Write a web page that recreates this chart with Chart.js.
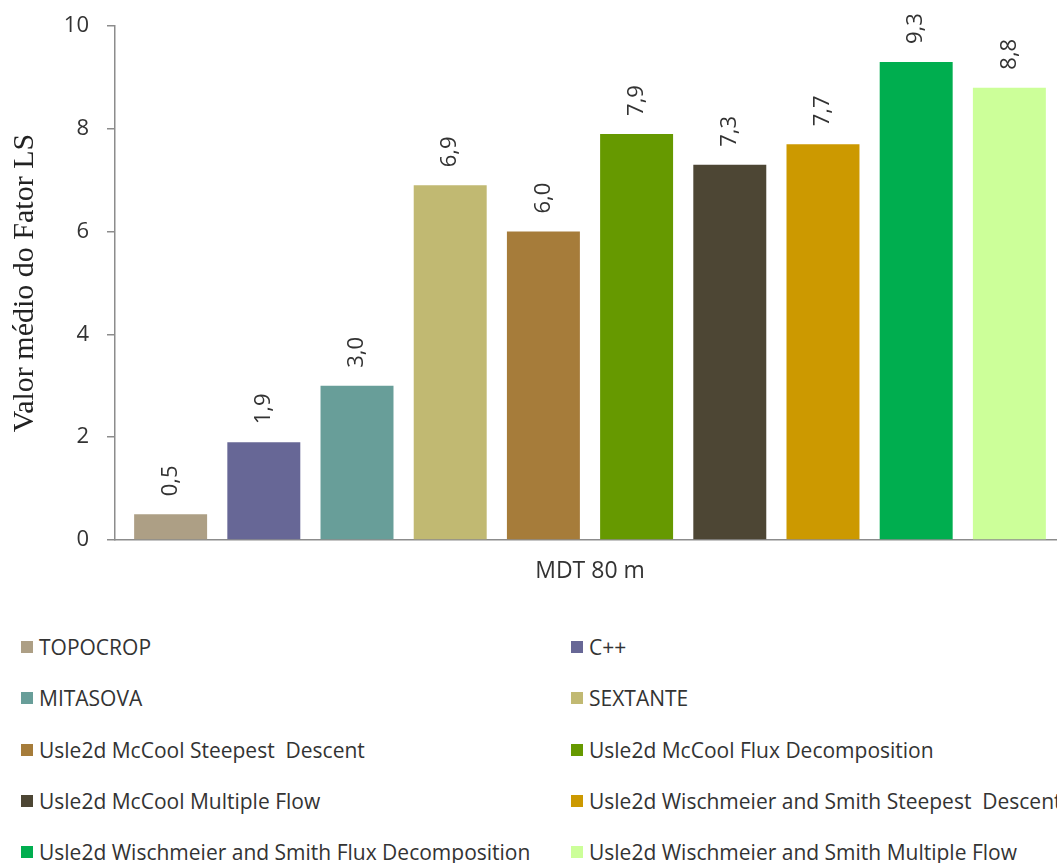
<!DOCTYPE html>
<html>
<head>
<meta charset="utf-8">
<script src="https://cdn.jsdelivr.net/npm/chart.js@4"></script>
<style>
  html, body { margin: 0; padding: 0; background: #fff; overflow: hidden; }
  #wrap { position: absolute; left: 0; top: 0; width: 1075px; height: 600px; }
  .legend { position: absolute; left: 0; top: 0; font-family: 'Open Sans', sans-serif; font-size: 21px; color: #333; }
  .legend .item { position: absolute; display: flex; align-items: center; white-space: pre; }
  .legend .box { width: 12px; height: 12px; margin-right: 6px; flex: none; }
</style>
</head>
<body>
<div id="wrap"><canvas id="chart" width="1075" height="600"></canvas></div>
<div class="legend" id="legend"></div>
<script>
// data
const categories = ['MDT 80 m'];
const seriesNames = [
  'TOPOCROP',
  'C++',
  'MITASOVA',
  'SEXTANTE',
  'Usle2d McCool Steepest  Descent',
  'Usle2d McCool Flux Decomposition',
  'Usle2d McCool Multiple Flow',
  'Usle2d Wischmeier and Smith Steepest  Descent',
  'Usle2d Wischmeier and Smith Flux Decomposition',
  'Usle2d Wischmeier and Smith Multiple Flow'
];
const seriesValues = [0.5, 1.9, 3.0, 6.9, 6.0, 7.9, 7.3, 7.7, 9.3, 8.8];
const seriesColors = [
  '#ad9f85', '#676796', '#689e99', '#c1b972', '#a67c3a',
  '#669900', '#4d4634', '#cc9900', '#00ae4f', '#ccff99'
];
const yTicks = [0, 2, 4, 6, 8, 10];

const fmt = v => v.toFixed(1).replace('.', ',');

// rotated value labels above each bar
const valueLabels = {
  id: 'valueLabels',
  afterDatasetsDraw(chart) {
    const ctx = chart.ctx;
    ctx.save();
    ctx.font = '22px "Open Sans"';
    ctx.fillStyle = '#333';
    ctx.textAlign = 'left';
    ctx.textBaseline = 'middle';
    chart.data.datasets.forEach((ds, i) => {
      const bar = chart.getDatasetMeta(i).data[0];
      ctx.save();
      ctx.translate(bar.x, bar.y - 18);
      ctx.rotate(-Math.PI / 2);
      ctx.fillText(fmt(ds.data[0]), 0, 0);
      ctx.restore();
    });
    ctx.restore();
  }
};

const datasets = seriesNames.map((name, i) => ({
  label: name,
  data: [seriesValues[i]],
  backgroundColor: seriesColors[i],
  borderWidth: 0,
  barPercentage: 0.783,
  categoryPercentage: 0.981
}));

new Chart(document.getElementById('chart'), {
  type: 'bar',
  data: { labels: categories, datasets: datasets },
  options: {
    responsive: false,
    animation: false,
    devicePixelRatio: 1,
    layout: { padding: { top: 26, right: 10, left: 0, bottom: 0 } },
    plugins: { legend: { display: false }, tooltip: { enabled: false } },
    scales: {
      x: {
        grid: { display: false, drawTicks: false },
        border: { display: true, color: '#8c8c8c', width: 1.5 },
        ticks: { color: '#333', font: { family: 'Open Sans', size: 23 }, padding: 18 },
        afterFit(scale) { scale.height = 60; }
      },
      y: {
        min: 0,
        max: 10,
        afterBuildTicks(scale) { scale.ticks = yTicks.map(v => ({ value: v })); },
        grid: { drawOnChartArea: false, tickLength: 8, color: '#8c8c8c', lineWidth: 1.5 },
        border: { display: true, color: '#8c8c8c', width: 1.5 },
        ticks: { color: '#333', font: { family: 'Open Sans', size: 22 }, padding: 18 },
        title: {
          display: true,
          text: 'Valor médio do Fator LS',
          color: '#222',
          font: { family: 'Liberation Serif', size: 30 },
          padding: { top: 7, bottom: 0 }
        },
        afterFit(scale) {
          scale.width = 115;
          scale.paddingTop = 0;
          scale.paddingBottom = 0;
        }
      }
    }
  },
  plugins: [valueLabels]
});

// two-column legend below the plot
const legendEl = document.getElementById('legend');
seriesNames.forEach((name, i) => {
  const item = document.createElement('div');
  item.className = 'item';
  const col = i % 2, row = Math.floor(i / 2);
  item.style.left = (col === 0 ? 21 : 571) + 'px';
  item.style.top = (647 + row * 51.3 - 13) + 'px';
  item.style.height = '26px';
  const box = document.createElement('span');
  box.className = 'box';
  box.style.background = seriesColors[i];
  const txt = document.createElement('span');
  txt.textContent = name;
  item.appendChild(box);
  item.appendChild(txt);
  legendEl.appendChild(item);
});
</script>
</body>
</html>
